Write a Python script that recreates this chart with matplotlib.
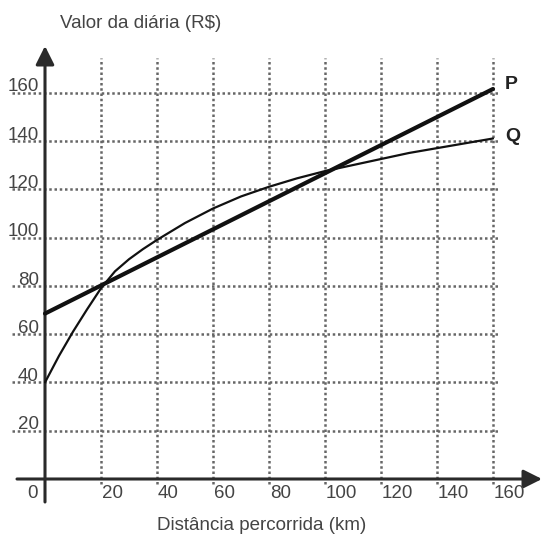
import matplotlib
matplotlib.use("Agg")
import matplotlib.pyplot as plt

plt.rcParams['font.family'] = ['Liberation Sans', 'DejaVu Sans']

# Data
x_ticks = [20, 40, 60, 80, 100, 120, 140, 160]
y_ticks = [20, 40, 60, 80, 100, 120, 140, 160]
x_labels = ["20", "40", "60", "80", "100", "120", "140", "160"]
y_labels = ["20", "40", "60", "80", "100", "120", "140", "160"]

p_x = [0, 160]
p_y = [68.5, 161.5]

q_x = [0, 5, 10, 15, 20, 25, 30, 35, 40, 50, 60, 70, 80, 90, 100, 110, 120, 130, 140, 150, 160]
q_y = [40, 51, 61, 70.2, 79, 86, 91, 95.2, 99, 106, 112, 117, 121, 124.5, 127.5, 130,
       132.5, 135, 137, 139, 141]

W, H = 543, 536
fig = plt.figure(figsize=(W / 100, H / 100), dpi=100)
ax = fig.add_axes([0, 0, 1, 1])
sx, sy = 2.8, 2.415
x0, y0 = 45, 479
ax.set_xlim(-x0 / sx, (W - x0) / sx)
ax.set_ylim((y0 - H) / sy, y0 / sy)
ax.axis('off')

grid_kw = dict(color='#666666', lw=1.8, linestyle=(0, (1, 1.1)), zorder=1)
top = (y0 - 58) / sy
for xv in x_ticks:
    ax.plot([xv, xv], [-2, top], **grid_kw)
for yv in y_ticks:
    ax.plot([(12 - x0) / sx, (500 - x0) / sx], [yv, yv], **grid_kw)

ax_col = '#2a2a2a'
ax.annotate('', xy=(0, (y0 - 46) / sy), xytext=(0, (y0 - 502) / sy),
            arrowprops=dict(arrowstyle='-|>', lw=2.2, color=ax_col, mutation_scale=28,
                            shrinkA=0, shrinkB=0), zorder=3)
ax.annotate('', xy=((542 - x0) / sx, 0), xytext=((17 - x0) / sx, 0),
            arrowprops=dict(arrowstyle='-|>', lw=2.2, color=ax_col, mutation_scale=28,
                            shrinkA=0, shrinkB=0), zorder=3)

ax.plot(p_x, p_y, color='#111111', lw=3.0, solid_capstyle='round', zorder=4)
ax.plot(q_x, q_y, color='#111111', lw=1.6, solid_capstyle='round', solid_joinstyle='round',
        zorder=4)

txt_col = '#444444'
fs = 13.5
for yv, lab in zip(y_ticks, y_labels):
    ax.text((39 - x0) / sx, yv + 0.5, lab, ha='right', va='baseline', fontsize=fs, color=txt_col)
for xv, lab in zip(x_ticks, x_labels):
    ax.text(xv + 0.3, (y0 - 493) / sy, lab, ha='left', va='center', fontsize=fs, color=txt_col)
ax.text((32 - x0) / sx, (y0 - 493) / sy, "0", ha='center', va='center', fontsize=fs, color=txt_col)

ax.text((60 - x0) / sx, (y0 - 23) / sy, "Valor da diária (R$)", ha='left', va='center',
        fontsize=fs, color=txt_col)
ax.text((262 - x0) / sx, (y0 - 526) / sy, "Distância percorrida (km)", ha='center', va='center',
        fontsize=fs, color=txt_col)

ax.text((505 - x0) / sx, p_y[-1] + 2, "P", ha='left', va='center', fontsize=14,
        fontweight='bold', color='#222222')
ax.text((505 - x0) / sx, q_y[-1] + 1, "Q", ha='left', va='center', fontsize=14,
        fontweight='bold', color='#222222')

fig.savefig('out.png', dpi=100)
